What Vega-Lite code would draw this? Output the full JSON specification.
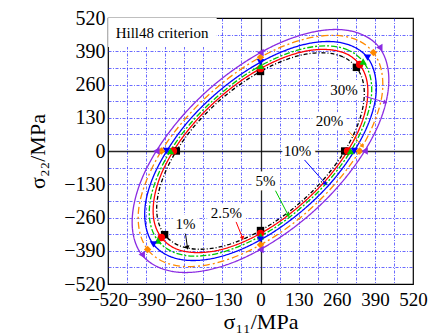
{
 "$schema": "https://vega.github.io/schema/vega-lite/v6.json",
 "width": 305, "height": 266,
 "autosize": {"type": "none"},
 "padding": {"left": 108, "top": 18, "right": 17, "bottom": 49},
 "config": {
  "view": {"stroke": "black", "strokeWidth": 1.2},
  "font": "Liberation Serif",
  "axis": {"labelColor": "black", "titleColor": "black", "titleFontWeight": "normal", "labelFont": "Liberation Serif", "titleFont": "Liberation Serif"}
 },
 "datasets": {
  "curves": [
   {"s":"1%","t":0,"x":327,"y":327},{"s":"1%","t":1,"x":281,"y":368},{"s":"1%","t":2,"x":215,"y":384},{"s":"1%","t":3,"x":135,"y":374},{"s":"1%","t":4,"x":46,"y":338},{"s":"1%","t":5,"x":-46,"y":279},{"s":"1%","t":6,"x":-136,"y":201},{"s":"1%","t":7,"x":-216,"y":110},{"s":"1%","t":8,"x":-281,"y":11},{"s":"1%","t":9,"x":-327,"y":-89},{"s":"1%","t":10,"x":-351,"y":-183},{"s":"1%","t":11,"x":-351,"y":-264},
   {"s":"1%","t":12,"x":-327,"y":-327},{"s":"1%","t":13,"x":-281,"y":-368},{"s":"1%","t":14,"x":-215,"y":-384},{"s":"1%","t":15,"x":-135,"y":-374},{"s":"1%","t":16,"x":-46,"y":-338},{"s":"1%","t":17,"x":46,"y":-279},{"s":"1%","t":18,"x":136,"y":-201},{"s":"1%","t":19,"x":216,"y":-110},{"s":"1%","t":20,"x":281,"y":-11},{"s":"1%","t":21,"x":327,"y":89},{"s":"1%","t":22,"x":351,"y":183},{"s":"1%","t":23,"x":351,"y":264},
   {"s":"2.5%","t":0,"x":338,"y":338},{"s":"2.5%","t":1,"x":291,"y":381},{"s":"2.5%","t":2,"x":223,"y":397},{"s":"2.5%","t":3,"x":140,"y":387},{"s":"2.5%","t":4,"x":48,"y":350},{"s":"2.5%","t":5,"x":-48,"y":289},{"s":"2.5%","t":6,"x":-140,"y":208},{"s":"2.5%","t":7,"x":-223,"y":114},{"s":"2.5%","t":8,"x":-291,"y":11},{"s":"2.5%","t":9,"x":-339,"y":-92},{"s":"2.5%","t":10,"x":-363,"y":-189},{"s":"2.5%","t":11,"x":-363,"y":-273},
   {"s":"2.5%","t":12,"x":-338,"y":-338},{"s":"2.5%","t":13,"x":-291,"y":-381},{"s":"2.5%","t":14,"x":-223,"y":-397},{"s":"2.5%","t":15,"x":-140,"y":-387},{"s":"2.5%","t":16,"x":-48,"y":-350},{"s":"2.5%","t":17,"x":48,"y":-289},{"s":"2.5%","t":18,"x":140,"y":-208},{"s":"2.5%","t":19,"x":223,"y":-114},{"s":"2.5%","t":20,"x":291,"y":-11},{"s":"2.5%","t":21,"x":339,"y":92},{"s":"2.5%","t":22,"x":363,"y":189},{"s":"2.5%","t":23,"x":363,"y":273},
   {"s":"5%","t":0,"x":350,"y":350},{"s":"5%","t":1,"x":300,"y":394},{"s":"5%","t":2,"x":230,"y":411},{"s":"5%","t":3,"x":145,"y":400},{"s":"5%","t":4,"x":49,"y":361},{"s":"5%","t":5,"x":-50,"y":299},{"s":"5%","t":6,"x":-145,"y":215},{"s":"5%","t":7,"x":-231,"y":118},{"s":"5%","t":8,"x":-301,"y":12},{"s":"5%","t":9,"x":-350,"y":-95},{"s":"5%","t":10,"x":-376,"y":-195},{"s":"5%","t":11,"x":-376,"y":-282},
   {"s":"5%","t":12,"x":-350,"y":-350},{"s":"5%","t":13,"x":-300,"y":-394},{"s":"5%","t":14,"x":-230,"y":-411},{"s":"5%","t":15,"x":-145,"y":-400},{"s":"5%","t":16,"x":-49,"y":-361},{"s":"5%","t":17,"x":50,"y":-299},{"s":"5%","t":18,"x":145,"y":-215},{"s":"5%","t":19,"x":231,"y":-118},{"s":"5%","t":20,"x":301,"y":-12},{"s":"5%","t":21,"x":350,"y":95},{"s":"5%","t":22,"x":376,"y":195},{"s":"5%","t":23,"x":376,"y":282},
   {"s":"10%","t":0,"x":365,"y":365},{"s":"10%","t":1,"x":313,"y":410},{"s":"10%","t":2,"x":240,"y":428},{"s":"10%","t":3,"x":151,"y":417},{"s":"10%","t":4,"x":51,"y":377},{"s":"10%","t":5,"x":-52,"y":311},{"s":"10%","t":6,"x":-151,"y":225},{"s":"10%","t":7,"x":-241,"y":123},{"s":"10%","t":8,"x":-313,"y":12},{"s":"10%","t":9,"x":-365,"y":-99},{"s":"10%","t":10,"x":-392,"y":-204},{"s":"10%","t":11,"x":-391,"y":-294},
   {"s":"10%","t":12,"x":-365,"y":-365},{"s":"10%","t":13,"x":-313,"y":-410},{"s":"10%","t":14,"x":-240,"y":-428},{"s":"10%","t":15,"x":-151,"y":-417},{"s":"10%","t":16,"x":-51,"y":-377},{"s":"10%","t":17,"x":52,"y":-311},{"s":"10%","t":18,"x":151,"y":-225},{"s":"10%","t":19,"x":241,"y":-123},{"s":"10%","t":20,"x":313,"y":-12},{"s":"10%","t":21,"x":365,"y":99},{"s":"10%","t":22,"x":392,"y":204},{"s":"10%","t":23,"x":391,"y":294},
   {"s":"20%","t":0,"x":385,"y":385},{"s":"20%","t":1,"x":331,"y":433},{"s":"20%","t":2,"x":254,"y":452},{"s":"20%","t":3,"x":159,"y":440},{"s":"20%","t":4,"x":54,"y":398},{"s":"20%","t":5,"x":-55,"y":329},{"s":"20%","t":6,"x":-160,"y":237},{"s":"20%","t":7,"x":-254,"y":129},{"s":"20%","t":8,"x":-331,"y":13},{"s":"20%","t":9,"x":-385,"y":-105},{"s":"20%","t":10,"x":-414,"y":-215},{"s":"20%","t":11,"x":-413,"y":-311},
   {"s":"20%","t":12,"x":-385,"y":-385},{"s":"20%","t":13,"x":-331,"y":-433},{"s":"20%","t":14,"x":-254,"y":-452},{"s":"20%","t":15,"x":-159,"y":-440},{"s":"20%","t":16,"x":-54,"y":-398},{"s":"20%","t":17,"x":55,"y":-329},{"s":"20%","t":18,"x":160,"y":-237},{"s":"20%","t":19,"x":254,"y":-129},{"s":"20%","t":20,"x":331,"y":-13},{"s":"20%","t":21,"x":385,"y":105},{"s":"20%","t":22,"x":414,"y":215},{"s":"20%","t":23,"x":413,"y":311},
   {"s":"30%","t":0,"x":405,"y":405},{"s":"30%","t":1,"x":347,"y":455},{"s":"30%","t":2,"x":266,"y":475},{"s":"30%","t":3,"x":167,"y":462},{"s":"30%","t":4,"x":57,"y":418},{"s":"30%","t":5,"x":-57,"y":345},{"s":"30%","t":6,"x":-168,"y":249},{"s":"30%","t":7,"x":-267,"y":136},{"s":"30%","t":8,"x":-348,"y":13},{"s":"30%","t":9,"x":-405,"y":-110},{"s":"30%","t":10,"x":-434,"y":-226},{"s":"30%","t":11,"x":-434,"y":-326},
   {"s":"30%","t":12,"x":-405,"y":-405},{"s":"30%","t":13,"x":-347,"y":-455},{"s":"30%","t":14,"x":-266,"y":-475},{"s":"30%","t":15,"x":-167,"y":-462},{"s":"30%","t":16,"x":-57,"y":-418},{"s":"30%","t":17,"x":57,"y":-345},{"s":"30%","t":18,"x":168,"y":-249},{"s":"30%","t":19,"x":267,"y":-136},{"s":"30%","t":20,"x":348,"y":-13},{"s":"30%","t":21,"x":405,"y":110},{"s":"30%","t":22,"x":434,"y":226},{"s":"30%","t":23,"x":434,"y":326}
  ],
  "points": [
   {"s":"1%","x":287,"y":0},{"s":"1%","x":-287,"y":0},{"s":"1%","x":0,"y":311},{"s":"1%","x":0,"y":-311},{"s":"1%","x":327,"y":327},{"s":"1%","x":-327,"y":-327},
   {"s":"2.5%","x":297,"y":0},{"s":"2.5%","x":-297,"y":0},{"s":"2.5%","x":0,"y":322},{"s":"2.5%","x":0,"y":-322},{"s":"2.5%","x":338,"y":338},{"s":"2.5%","x":-338,"y":-338},
   {"s":"5%","x":307,"y":0},{"s":"5%","x":-307,"y":0},{"s":"5%","x":0,"y":333},{"s":"5%","x":0,"y":-333},{"s":"5%","x":350,"y":350},{"s":"5%","x":-350,"y":-350},
   {"s":"10%","x":320,"y":0},{"s":"10%","x":-320,"y":0},{"s":"10%","x":0,"y":347},{"s":"10%","x":0,"y":-347},{"s":"10%","x":365,"y":365},{"s":"10%","x":-365,"y":-365},
   {"s":"20%","x":338,"y":0},{"s":"20%","x":-338,"y":0},{"s":"20%","x":0,"y":367},{"s":"20%","x":0,"y":-367},{"s":"20%","x":385,"y":385},{"s":"20%","x":-385,"y":-385},
   {"s":"30%","x":355,"y":0},{"s":"30%","x":-355,"y":0},{"s":"30%","x":0,"y":385},{"s":"30%","x":0,"y":-385},{"s":"30%","x":405,"y":405},{"s":"30%","x":-405,"y":-405}
  ],
  "arrows": [
   {"s":"1%","x":-256,"y":-322,"x2":-249,"y2":-378,"a":172},
   {"s":"2.5%","x":-85,"y":-272,"x2":-61,"y2":-341,"a":164},
   {"s":"5%","x":51,"y":-155,"x2":95,"y2":-252,"a":150},
   {"s":"10%","x":147,"y":-31,"x2":222,"y2":-128,"a":138},
   {"s":"20%","x":300,"y":78,"x2":348,"y2":19,"a":137},
   {"s":"30%","x":358,"y":213,"x2":426,"y2":190,"a":107}
  ],
  "labels": [
   {"s":"1%","label":"1%","x":-256,"y":-287},
   {"s":"2.5%","label":"2.5%","x":-116,"y":-244},
   {"s":"5%","label":"5%","x":17,"y":-116},
   {"s":"10%","label":"10%","x":126,"y":0},
   {"s":"20%","label":"20%","x":235,"y":116},
   {"s":"30%","label":"30%","x":285,"y":237}
  ]
 },
 "layer": [
  {
   "data": {"name": "curves"},
   "mark": {"type": "line", "interpolate": "cardinal-closed", "strokeWidth": 1.3},
   "encoding": {
    "x": {"field": "x", "type": "quantitative", "scale": {"domain": [-520, 520], "nice": false, "zero": false},
     "axis": {"values": [-520,-455,-390,-325,-260,-195,-130,-65,0,65,130,195,260,325,390,455,520],
      "tickCount": 40,
      "labelExpr": "datum.value % 130 === 0 ? datum.label : ''",
      "grid": true,
      "gridColor": {"condition": {"test": "datum.value === 0", "value": "black"}, "value": "#2323ff"},
      "gridOpacity": {"condition": {"test": "abs(datum.value) === 520", "value": 0}, "value": 0.85},
      "gridDash": {"condition": {"test": "datum.value === 0", "value": []}, "value": [3, 1.5, 1, 1.5]},
      "gridWidth": {"condition": {"test": "datum.value === 0", "value": 1.3}, "value": 0.8},
      "ticks": false, "domain": false, "labelFontSize": 19, "labelPadding": 6,
      "labelOverlap": false, "labelFlush": false,
      "title": "σ₁₁/MPa", "titleFontSize": 22, "titlePadding": 2}},
    "y": {"field": "y", "type": "quantitative", "scale": {"domain": [-520, 520], "nice": false, "zero": false},
     "axis": {"values": [-520,-455,-390,-325,-260,-195,-130,-65,0,65,130,195,260,325,390,455,520],
      "tickCount": 40,
      "labelExpr": "datum.value % 130 === 0 ? datum.label : ''",
      "grid": true,
      "gridColor": {"condition": {"test": "datum.value === 0", "value": "black"}, "value": "#2323ff"},
      "gridOpacity": {"condition": {"test": "abs(datum.value) === 520", "value": 0}, "value": 0.85},
      "gridDash": {"condition": {"test": "datum.value === 0", "value": []}, "value": [3, 1.5, 1, 1.5]},
      "gridWidth": {"condition": {"test": "datum.value === 0", "value": 1.3}, "value": 0.8},
      "ticks": false, "domain": false, "labelFontSize": 20, "labelPadding": 3,
      "labelOverlap": false, "labelFlush": false,
      "title": "σ₂₂/MPa", "titleFontSize": 22, "titlePadding": 14}},
    "order": {"field": "t", "type": "quantitative"},
    "detail": {"field": "s"},
    "color": {"field": "s", "type": "nominal", "legend": null,
     "scale": {"domain": ["1%","2.5%","5%","10%","20%","30%"], "range": ["#000000","#ff0000","#00c800","#0000ff","#ff8a00","#8a2be2"]}},
    "strokeDash": {"field": "s", "type": "nominal", "legend": null,
     "scale": {"domain": ["1%","2.5%","5%","10%","20%","30%"], "range": [[4,2,1,2],[1,0],[6,2,2,2],[1,0],[7,3,2,3],[1,0]]}}
   }
  },
  {
   "data": {"values": [{}]},
   "mark": {"type": "rect", "fill": "white", "stroke": "white", "strokeWidth": 1.5},
   "encoding": {
    "x": {"datum": -517, "type": "quantitative"},
    "x2": {"datum": -152},
    "y": {"datum": 517, "type": "quantitative"},
    "y2": {"datum": 410}
   }
  },
  {
   "data": {"name": "points"},
   "mark": {"type": "point", "filled": true, "opacity": 1, "size": 55},
   "encoding": {
    "x": {"field": "x", "type": "quantitative"},
    "y": {"field": "y", "type": "quantitative"},
    "color": {"field": "s", "type": "nominal", "legend": null,
     "scale": {"domain": ["1%","2.5%","5%","10%","20%","30%"], "range": ["#000000","#ff0000","#00c800","#0000ff","#ff8a00","#8a2be2"]}},
    "shape": {"field": "s", "type": "nominal", "legend": null,
     "scale": {"domain": ["1%","2.5%","5%","10%","20%","30%"], "range": ["square","circle","triangle-up","triangle-down","diamond","triangle-left"]}}
   }
  },
  {
   "data": {"name": "arrows"},
   "mark": {"type": "rule", "strokeWidth": 1},
   "encoding": {
    "x": {"field": "x", "type": "quantitative"},
    "y": {"field": "y", "type": "quantitative"},
    "x2": {"field": "x2"},
    "y2": {"field": "y2"},
    "color": {"field": "s", "type": "nominal", "legend": null,
     "scale": {"domain": ["1%","2.5%","5%","10%","20%","30%"], "range": ["#000000","#ff0000","#00c800","#0000ff","#ff8a00","#8a2be2"]}}
   }
  },
  {
   "data": {"name": "arrows"},
   "mark": {"type": "point", "filled": true, "opacity": 1, "shape": "triangle-up", "size": 22},
   "encoding": {
    "x": {"field": "x2", "type": "quantitative"},
    "y": {"field": "y2", "type": "quantitative"},
    "angle": {"field": "a", "type": "quantitative", "scale": null},
    "color": {"field": "s", "type": "nominal", "legend": null,
     "scale": {"domain": ["1%","2.5%","5%","10%","20%","30%"], "range": ["#000000","#ff0000","#00c800","#0000ff","#ff8a00","#8a2be2"]}}
   }
  },
  {
   "data": {"name": "labels"},
   "mark": {"type": "text", "fontSize": 15, "font": "Liberation Serif", "stroke": "white", "strokeWidth": 9, "fill": "white", "strokeJoin": "round"},
   "encoding": {
    "x": {"field": "x", "type": "quantitative"},
    "y": {"field": "y", "type": "quantitative"},
    "text": {"field": "label"}
   }
  },
  {
   "data": {"name": "labels"},
   "mark": {"type": "text", "fontSize": 15, "font": "Liberation Serif", "color": "black"},
   "encoding": {
    "x": {"field": "x", "type": "quantitative"},
    "y": {"field": "y", "type": "quantitative"},
    "text": {"field": "label"}
   }
  },
  {
   "data": {"values": [{}]},
   "mark": {"type": "text", "text": "Hill48 criterion", "fontSize": 15, "font": "Liberation Serif", "align": "left", "baseline": "alphabetic", "color": "black"},
   "encoding": {
    "x": {"datum": -494, "type": "quantitative"},
    "y": {"datum": 442, "type": "quantitative"}
   }
  }
 ]
}
